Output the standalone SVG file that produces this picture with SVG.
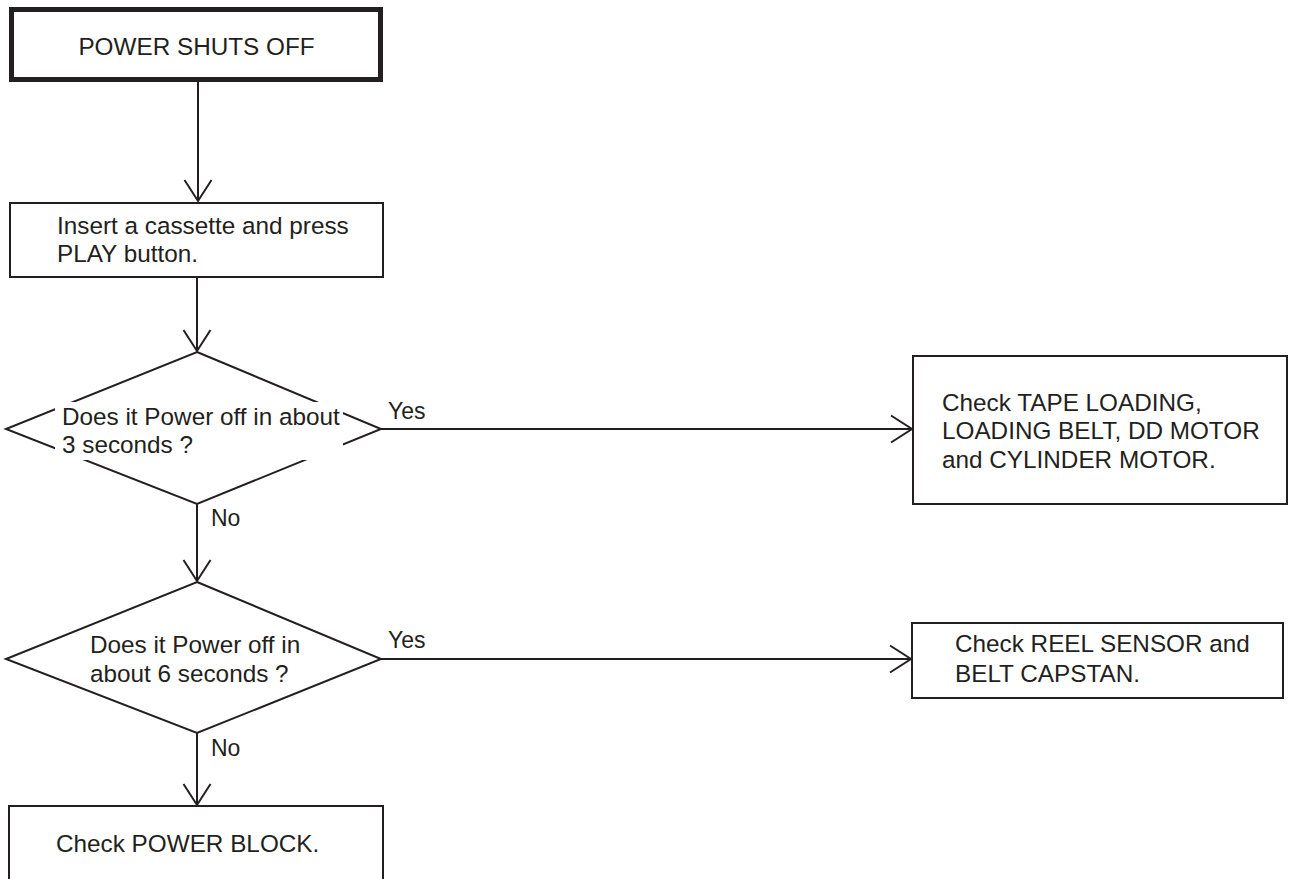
<svg xmlns="http://www.w3.org/2000/svg" width="1289" height="879" viewBox="0 0 1289 879">
  <style>
    .box { fill: #fff; stroke: #231f20; stroke-width: 2; }
    .thick { stroke-width: 5; }
    .txt { font-family: "Liberation Sans", Arial, sans-serif; font-size: 24.3px; fill: #231f20; }
    .lbl { font-family: "Liberation Sans", Arial, sans-serif; font-size: 23px; fill: #231f20; }
    .conn { stroke: #231f20; stroke-width: 2; fill: none; }
  </style>
  <defs>
    <marker id="arr" viewBox="-30 -20 40 40" markerWidth="40" markerHeight="40" refX="0" refY="0" orient="auto" markerUnits="userSpaceOnUse" overflow="visible">
      <path d="M-21,-13.5 L0,0 L-21,13.5" fill="none" stroke="#231f20" stroke-width="2"/>
    </marker>
  </defs>
  <rect width="1289" height="879" fill="#fff"/>

  <g id="connectors">
    <line class="conn" x1="198" y1="82" x2="198" y2="201" marker-end="url(#arr)"/>
    <line class="conn" x1="197" y1="277" x2="197" y2="351" marker-end="url(#arr)"/>
    <line class="conn" x1="197" y1="504" x2="197" y2="581" marker-end="url(#arr)"/>
    <line class="conn" x1="197" y1="733" x2="197" y2="805" marker-end="url(#arr)"/>
    <line class="conn" x1="381" y1="429" x2="912" y2="429" marker-end="url(#arr)"/>
    <line class="conn" x1="381" y1="659" x2="911" y2="659" marker-end="url(#arr)"/>
    <text class="lbl" x="388" y="419">Yes</text>
    <text class="lbl" x="388" y="648">Yes</text>
    <text class="lbl" x="211" y="526">No</text>
    <text class="lbl" x="211" y="756">No</text>
  </g>

  <g id="start">
    <rect class="box thick" x="11.5" y="9.5" width="369" height="70"/>
    <text class="txt" x="196.5" y="55" text-anchor="middle">POWER SHUTS OFF</text>
  </g>

  <g id="insert">
    <rect class="box" x="10" y="203" width="373" height="74"/>
    <text class="txt" x="57" y="234">Insert a cassette and press</text>
    <text class="txt" x="57" y="262">PLAY button.</text>
  </g>

  <g id="decision1">
    <polygon class="box" points="197,352 381,429 197,504 6,429"/>
    <rect x="55" y="402" width="288" height="58" fill="#fff"/>
    <text class="txt" x="62" y="425">Does it Power off in about</text>
    <text class="txt" x="62" y="453">3 seconds ?</text>
  </g>

  <g id="decision2">
    <polygon class="box" points="197,582 381,659 197,733 6,659"/>
    <text class="txt" x="90" y="653">Does it Power off in</text>
    <text class="txt" x="90" y="682">about 6 seconds ?</text>
  </g>

  <g id="check-tape">
    <rect class="box" x="913" y="356" width="374" height="148"/>
    <text class="txt" x="942" y="411">Check TAPE LOADING,</text>
    <text class="txt" x="942" y="439">LOADING BELT, DD MOTOR</text>
    <text class="txt" x="942" y="468">and CYLINDER MOTOR.</text>
  </g>

  <g id="check-reel">
    <rect class="box" x="912" y="623" width="371" height="75"/>
    <text class="txt" x="955" y="652">Check REEL SENSOR and</text>
    <text class="txt" x="955" y="682">BELT CAPSTAN.</text>
  </g>

  <g id="check-power">
    <rect class="box" x="9" y="806" width="374" height="90"/>
    <text class="txt" x="56" y="852">Check POWER BLOCK.</text>
  </g>
</svg>
